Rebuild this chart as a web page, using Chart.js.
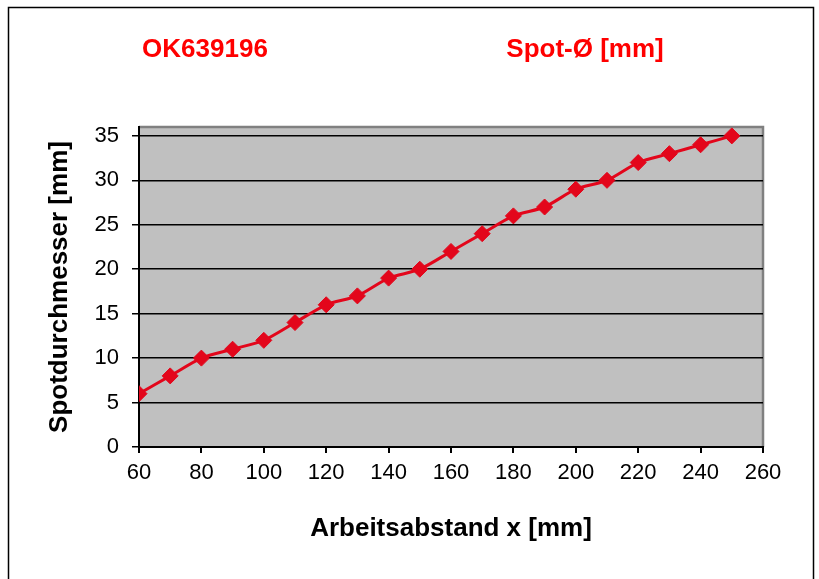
<!DOCTYPE html>
<html>
<head>
<meta charset="utf-8">
<script src="https://cdn.jsdelivr.net/npm/chart.js@4/dist/chart.umd.min.js"></script>
<style>
    html, body { margin: 0; padding: 0; background: #fff; }
    #wrap { width: 819px; height: 579px; position: relative; }
</style>
</head>
<body>
<div id="wrap"><canvas id="chart"></canvas></div>
<script>
// Arbeitsabstand x [mm] und gemessener Spotdurchmesser
const distances = [60, 70, 80, 90, 100, 110, 120, 130, 140, 150, 160, 170, 180, 190, 200, 210, 220, 230, 240, 250];
const spotDiameters = [6, 8, 10, 11, 12, 14, 16, 17, 19, 20, 22, 24, 26, 27, 29, 30, 32, 33, 34, 35];
const yTickValues = [0, 5, 10, 15, 20, 25, 30, 35];
const headerLeft = 'OK639196';
const headerRight = 'Spot-Ø [mm]';
const xTitle = 'Arbeitsabstand x [mm]';
const yTitle = 'Spotdurchmesser [mm]';

const RED = '#E3061B';
const FONT = 'Arial, "Liberation Sans", sans-serif';

// Rahmen, grauer Plotbereich und rote Kopfzeile
const decorPlugin = {
    id: 'decor',
    beforeDraw(chart) {
        const { ctx, chartArea: a } = chart;
        ctx.save();
        ctx.fillStyle = '#C0C0C0';
        ctx.fillRect(a.left, a.top, a.right - a.left, a.bottom - a.top);
        ctx.strokeStyle = '#808080';
        ctx.lineWidth = 2.5;
        ctx.beginPath();
        ctx.moveTo(a.left, a.top);
        ctx.lineTo(a.right, a.top);
        ctx.lineTo(a.right, a.bottom);
        ctx.stroke();
        ctx.restore();
    },
    afterDraw(chart) {
        const { ctx } = chart;
        ctx.save();
        ctx.strokeStyle = '#000';
        ctx.lineWidth = 1.5;
        ctx.strokeRect(8.5, 7.5, 805, 600);
        ctx.fillStyle = '#FF0000';
        ctx.font = 'bold 26px ' + FONT;
        ctx.textAlign = 'center';
        ctx.textBaseline = 'middle';
        ctx.fillText(headerLeft, 205, 50);
        ctx.fillText(headerRight, 585, 50);
        ctx.restore();
    },
};

new Chart(document.getElementById('chart'), {
    type: 'line',
    data: {
        datasets: [{
            data: distances.map((x, i) => ({ x, y: spotDiameters[i] })),
            borderColor: RED,
            backgroundColor: RED,
            borderWidth: 3,
            pointStyle: 'rectRot',
            pointRadius: 8,
            pointBorderWidth: 1,
            pointBorderColor: RED,
            pointBackgroundColor: RED,
            tension: 0.25,
        }],
    },
    options: {
        responsive: true,
        maintainAspectRatio: false,
        animation: false,
        layout: { padding: { left: 0, top: 127, right: 56, bottom: 0 } },
        plugins: {
            legend: { display: false },
            tooltip: { enabled: false },
        },
        scales: {
            x: {
                type: 'linear',
                min: 60,
                max: 260,
                afterFit(scale) { scale.height = 132; },
                ticks: { stepSize: 20, color: '#000', padding: 7, font: { family: FONT, size: 22 } },
                grid: { drawOnChartArea: false, color: '#000', lineWidth: 2, tickLength: 6 },
                border: { color: '#000', width: 2 },
                title: {
                    display: true,
                    text: xTitle,
                    color: '#000',
                    font: { family: FONT, size: 26, weight: 'bold' },
                    padding: { top: 0, bottom: 35 },
                },
            },
            y: {
                min: 0,
                max: 36,
                afterFit(scale) { scale.width = 139; },
                afterBuildTicks(scale) { scale.ticks = yTickValues.map(value => ({ value })); },
                ticks: { color: '#000', padding: 13, font: { family: FONT, size: 22 } },
                grid: { color: '#000', lineWidth: 1.5, tickLength: 7 },
                border: { color: '#000', width: 2 },
                title: {
                    display: true,
                    text: yTitle,
                    color: '#000',
                    font: { family: FONT, size: 26, weight: 'bold' },
                    padding: { top: 44, bottom: 0 },
                },
            },
        },
    },
    plugins: [decorPlugin],
});
</script>
</body>
</html>
